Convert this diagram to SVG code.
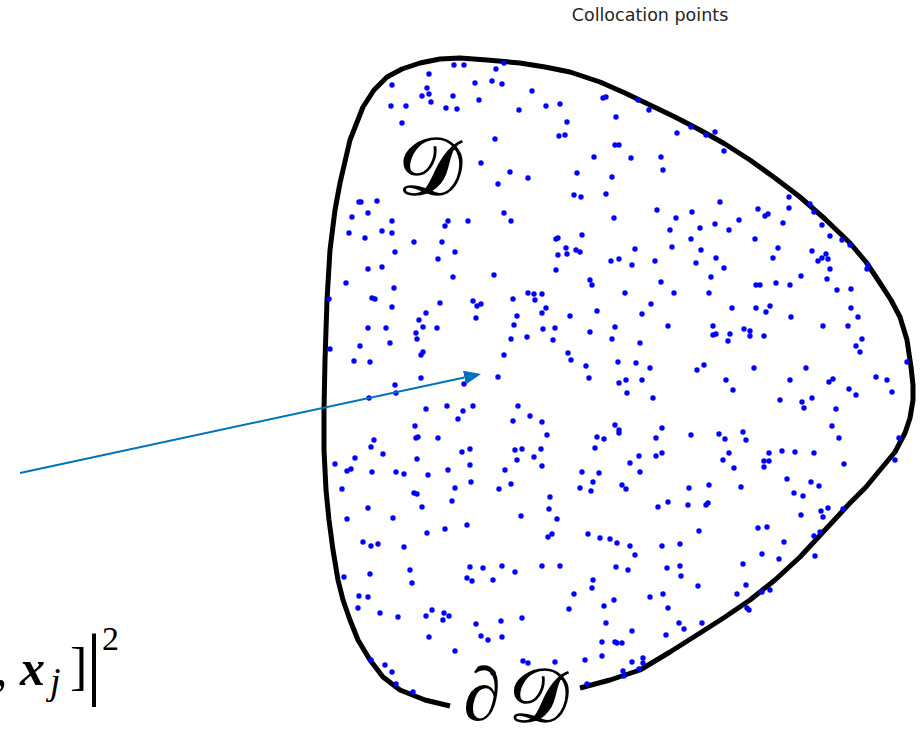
<svg xmlns="http://www.w3.org/2000/svg" width="921" height="736" viewBox="0 0 921 736">
<style>
.title{font-family:"DejaVu Sans",sans-serif;font-size:17.5px;fill:#262626}
.cal{font-family:"DejaVu Serif","Liberation Serif",serif;fill:#000;stroke:#000;stroke-width:1.6}
.ser{font-family:"Liberation Serif",serif;fill:#000}
.dots circle{fill:#0000ff}
</style>
<defs>
<marker id="ah" viewBox="0 0 17 14" refX="0" refY="7" markerWidth="17" markerHeight="14" markerUnits="userSpaceOnUse" orient="auto">
<path d="M0,0 L17,7 L0,14 z" fill="#0072BD"/>
</marker>
</defs>
<rect width="921" height="736" fill="#fff"/>
<text class="title" x="650" y="21" text-anchor="middle">Collocation points</text>
<g id="domain">
<polyline fill="none" stroke="#000" stroke-width="5" stroke-linejoin="round" stroke-linecap="butt" points="450,706 425,700 400,690 383,677 370,660 358,640 350,620 343,600 338,580 333,550 329,520 326,490 324,450 324,410 325,360 327,300 330,250 335,210 340,183 350,140 363,107 374,90 387,77 402,69 420,63 440,59 460,58 487,60 520,63 545,67 570,72 600,82 625,93 650,105 675,117 700,130 725,144 750,160 775,178 800,197 825,219 850,243 866,262 880,283 891,300 900,317 907,340 911,367 913,385 913,400 910,418 905,433 895,452 880,470 866,487 850,503 825,530 800,557 775,580 750,600 725,617 700,633 670,652 640,670 610,680 580,688"/>
</g>
<g class="dots" id="points">
<circle cx="454" cy="65" r="2.7"/><circle cx="464" cy="65" r="2.7"/><circle cx="504" cy="63" r="2.7"/><circle cx="496" cy="69" r="2.7"/><circle cx="429" cy="74" r="2.7"/><circle cx="392" cy="85" r="2.7"/><circle cx="475" cy="83" r="2.7"/><circle cx="492" cy="81" r="2.7"/><circle cx="502" cy="84" r="2.7"/><circle cx="532" cy="91" r="2.7"/><circle cx="427" cy="88" r="2.7"/><circle cx="429" cy="94" r="2.7"/><circle cx="422" cy="96" r="2.7"/><circle cx="453" cy="96" r="2.7"/><circle cx="431" cy="102" r="2.7"/><circle cx="479" cy="100" r="2.7"/><circle cx="391" cy="106" r="2.7"/><circle cx="406" cy="106" r="2.7"/><circle cx="446" cy="108" r="2.7"/><circle cx="457" cy="109" r="2.7"/><circle cx="519" cy="110" r="2.7"/><circle cx="546" cy="106" r="2.7"/><circle cx="560" cy="104" r="2.7"/><circle cx="603" cy="98" r="2.7"/><circle cx="606" cy="97" r="2.7"/><circle cx="402" cy="123" r="2.7"/><circle cx="567" cy="122" r="2.7"/><circle cx="559" cy="136" r="2.7"/><circle cx="565" cy="135" r="2.7"/><circle cx="495" cy="139" r="2.7"/><circle cx="594" cy="157" r="2.7"/><circle cx="481" cy="163" r="2.7"/><circle cx="510" cy="172" r="2.7"/><circle cx="528" cy="178" r="2.7"/><circle cx="577" cy="173" r="2.7"/><circle cx="498" cy="184" r="2.7"/><circle cx="574" cy="195" r="2.7"/><circle cx="581" cy="197" r="2.7"/>
<circle cx="638" cy="100" r="2.7"/><circle cx="649" cy="110" r="2.7"/><circle cx="616" cy="117" r="2.7"/><circle cx="677" cy="133" r="2.7"/><circle cx="691" cy="127" r="2.7"/><circle cx="706" cy="135" r="2.7"/><circle cx="715" cy="132" r="2.7"/><circle cx="724" cy="151" r="2.7"/><circle cx="615" cy="145" r="2.7"/><circle cx="619" cy="145" r="2.7"/><circle cx="631" cy="158" r="2.7"/><circle cx="661" cy="157" r="2.7"/><circle cx="663" cy="170" r="2.7"/><circle cx="612" cy="177" r="2.7"/><circle cx="606" cy="194" r="2.7"/><circle cx="720" cy="202" r="2.7"/><circle cx="789" cy="197" r="2.7"/><circle cx="789" cy="208" r="2.7"/><circle cx="810" cy="204" r="2.7"/><circle cx="814" cy="212" r="2.7"/><circle cx="758" cy="209" r="2.7"/><circle cx="765" cy="216" r="2.7"/><circle cx="768" cy="214" r="2.7"/><circle cx="657" cy="210" r="2.7"/><circle cx="676" cy="218" r="2.7"/><circle cx="692" cy="212" r="2.7"/><circle cx="614" cy="218" r="2.7"/><circle cx="715" cy="224" r="2.7"/><circle cx="739" cy="220" r="2.7"/><circle cx="783" cy="223" r="2.7"/><circle cx="822" cy="225" r="2.7"/><circle cx="670" cy="230" r="2.7"/><circle cx="700" cy="228" r="2.7"/><circle cx="729" cy="230" r="2.7"/><circle cx="830" cy="236" r="2.7"/><circle cx="842" cy="240" r="2.7"/><circle cx="850" cy="245" r="2.7"/><circle cx="755" cy="239" r="2.7"/><circle cx="691" cy="239" r="2.7"/><circle cx="672" cy="247" r="2.7"/><circle cx="701" cy="250" r="2.7"/><circle cx="635" cy="249" r="2.7"/><circle cx="778" cy="248" r="2.7"/><circle cx="812" cy="251" r="2.7"/><circle cx="826" cy="254" r="2.7"/><circle cx="822" cy="258" r="2.7"/><circle cx="818" cy="261" r="2.7"/><circle cx="828" cy="259" r="2.7"/><circle cx="868" cy="265" r="2.7"/><circle cx="867" cy="269" r="2.7"/><circle cx="611" cy="261" r="2.7"/><circle cx="619" cy="259" r="2.7"/><circle cx="632" cy="265" r="2.7"/><circle cx="655" cy="261" r="2.7"/><circle cx="696" cy="263" r="2.7"/><circle cx="716" cy="258" r="2.7"/><circle cx="724" cy="268" r="2.7"/><circle cx="773" cy="258" r="2.7"/><circle cx="830" cy="269" r="2.7"/><circle cx="711" cy="277" r="2.7"/><circle cx="801" cy="276" r="2.7"/><circle cx="827" cy="279" r="2.7"/><circle cx="661" cy="282" r="2.7"/><circle cx="756" cy="285" r="2.7"/><circle cx="760" cy="285" r="2.7"/><circle cx="776" cy="283" r="2.7"/><circle cx="790" cy="285" r="2.7"/><circle cx="837" cy="290" r="2.7"/><circle cx="851" cy="289" r="2.7"/><circle cx="625" cy="293" r="2.7"/><circle cx="674" cy="293" r="2.7"/><circle cx="709" cy="293" r="2.7"/><circle cx="651" cy="304" r="2.7"/><circle cx="642" cy="314" r="2.7"/><circle cx="732" cy="308" r="2.7"/><circle cx="756" cy="308" r="2.7"/><circle cx="766" cy="312" r="2.7"/><circle cx="770" cy="306" r="2.7"/><circle cx="791" cy="317" r="2.7"/><circle cx="851" cy="308" r="2.7"/><circle cx="858" cy="317" r="2.7"/><circle cx="615" cy="327" r="2.7"/><circle cx="612" cy="339" r="2.7"/><circle cx="668" cy="326" r="2.7"/><circle cx="713" cy="326" r="2.7"/><circle cx="713" cy="335" r="2.7"/><circle cx="716" cy="334" r="2.7"/><circle cx="730" cy="334" r="2.7"/><circle cx="728" cy="341" r="2.7"/><circle cx="744" cy="329" r="2.7"/><circle cx="750" cy="331" r="2.7"/><circle cx="750" cy="336" r="2.7"/><circle cx="764" cy="336" r="2.7"/><circle cx="823" cy="326" r="2.7"/><circle cx="848" cy="326" r="2.7"/><circle cx="862" cy="339" r="2.7"/><circle cx="856" cy="346" r="2.7"/><circle cx="860" cy="352" r="2.7"/><circle cx="640" cy="343" r="2.7"/><circle cx="618" cy="362" r="2.7"/><circle cx="636" cy="363" r="2.7"/><circle cx="650" cy="368" r="2.7"/><circle cx="697" cy="370" r="2.7"/><circle cx="704" cy="365" r="2.7"/><circle cx="754" cy="368" r="2.7"/><circle cx="806" cy="368" r="2.7"/><circle cx="907" cy="362" r="2.7"/><circle cx="876" cy="377" r="2.7"/><circle cx="887" cy="380" r="2.7"/><circle cx="892" cy="392" r="2.7"/><circle cx="626" cy="380" r="2.7"/><circle cx="619" cy="383" r="2.7"/><circle cx="642" cy="380" r="2.7"/><circle cx="726" cy="380" r="2.7"/><circle cx="733" cy="390" r="2.7"/><circle cx="790" cy="380" r="2.7"/><circle cx="829" cy="382" r="2.7"/><circle cx="833" cy="379" r="2.7"/><circle cx="849" cy="389" r="2.7"/><circle cx="856" cy="395" r="2.7"/><circle cx="627" cy="393" r="2.7"/><circle cx="653" cy="398" r="2.7"/><circle cx="780" cy="400" r="2.7"/><circle cx="802" cy="402" r="2.7"/><circle cx="812" cy="398" r="2.7"/><circle cx="804" cy="408" r="2.7"/><circle cx="836" cy="409" r="2.7"/>
<circle cx="615" cy="425" r="2.7"/><circle cx="619" cy="430" r="2.7"/><circle cx="619" cy="433" r="2.7"/><circle cx="597" cy="437" r="2.7"/><circle cx="604" cy="439" r="2.7"/><circle cx="595" cy="448" r="2.7"/><circle cx="656" cy="438" r="2.7"/><circle cx="662" cy="428" r="2.7"/><circle cx="691" cy="435" r="2.7"/><circle cx="719" cy="434" r="2.7"/><circle cx="725" cy="439" r="2.7"/><circle cx="743" cy="432" r="2.7"/><circle cx="746" cy="440" r="2.7"/><circle cx="832" cy="426" r="2.7"/><circle cx="839" cy="438" r="2.7"/><circle cx="899" cy="438" r="2.7"/><circle cx="895" cy="460" r="2.7"/><circle cx="844" cy="464" r="2.7"/><circle cx="639" cy="456" r="2.7"/><circle cx="656" cy="456" r="2.7"/><circle cx="662" cy="453" r="2.7"/><circle cx="630" cy="463" r="2.7"/><circle cx="640" cy="472" r="2.7"/><circle cx="729" cy="453" r="2.7"/><circle cx="723" cy="460" r="2.7"/><circle cx="734" cy="468" r="2.7"/><circle cx="769" cy="453" r="2.7"/><circle cx="764" cy="461" r="2.7"/><circle cx="769" cy="461" r="2.7"/><circle cx="764" cy="467" r="2.7"/><circle cx="782" cy="451" r="2.7"/><circle cx="795" cy="452" r="2.7"/><circle cx="814" cy="453" r="2.7"/><circle cx="582" cy="472" r="2.7"/><circle cx="599" cy="473" r="2.7"/><circle cx="593" cy="482" r="2.7"/><circle cx="580" cy="488" r="2.7"/><circle cx="591" cy="491" r="2.7"/><circle cx="622" cy="485" r="2.7"/><circle cx="626" cy="489" r="2.7"/><circle cx="689" cy="488" r="2.7"/><circle cx="709" cy="485" r="2.7"/><circle cx="741" cy="487" r="2.7"/><circle cx="787" cy="479" r="2.7"/><circle cx="811" cy="482" r="2.7"/><circle cx="819" cy="486" r="2.7"/><circle cx="794" cy="493" r="2.7"/><circle cx="803" cy="496" r="2.7"/><circle cx="668" cy="502" r="2.7"/><circle cx="658" cy="507" r="2.7"/><circle cx="688" cy="505" r="2.7"/><circle cx="706" cy="505" r="2.7"/><circle cx="708" cy="503" r="2.7"/><circle cx="821" cy="511" r="2.7"/><circle cx="828" cy="508" r="2.7"/><circle cx="843" cy="509" r="2.7"/><circle cx="823" cy="517" r="2.7"/><circle cx="801" cy="515" r="2.7"/><circle cx="758" cy="528" r="2.7"/><circle cx="767" cy="527" r="2.7"/><circle cx="820" cy="532" r="2.7"/><circle cx="814" cy="536" r="2.7"/><circle cx="699" cy="531" r="2.7"/><circle cx="588" cy="534" r="2.7"/><circle cx="600" cy="538" r="2.7"/><circle cx="610" cy="539" r="2.7"/><circle cx="617" cy="543" r="2.7"/><circle cx="630" cy="546" r="2.7"/><circle cx="635" cy="555" r="2.7"/><circle cx="662" cy="546" r="2.7"/><circle cx="680" cy="544" r="2.7"/><circle cx="784" cy="542" r="2.7"/><circle cx="762" cy="554" r="2.7"/><circle cx="779" cy="559" r="2.7"/><circle cx="815" cy="556" r="2.7"/><circle cx="743" cy="564" r="2.7"/><circle cx="616" cy="567" r="2.7"/><circle cx="628" cy="570" r="2.7"/><circle cx="667" cy="568" r="2.7"/><circle cx="680" cy="566" r="2.7"/><circle cx="681" cy="576" r="2.7"/><circle cx="593" cy="580" r="2.7"/><circle cx="592" cy="588" r="2.7"/><circle cx="698" cy="586" r="2.7"/><circle cx="746" cy="585" r="2.7"/><circle cx="737" cy="594" r="2.7"/><circle cx="762" cy="592" r="2.7"/><circle cx="770" cy="590" r="2.7"/><circle cx="650" cy="597" r="2.7"/><circle cx="663" cy="594" r="2.7"/><circle cx="614" cy="600" r="2.7"/><circle cx="604" cy="606" r="2.7"/><circle cx="668" cy="608" r="2.7"/><circle cx="747" cy="608" r="2.7"/><circle cx="749" cy="610" r="2.7"/><circle cx="606" cy="623" r="2.7"/><circle cx="679" cy="623" r="2.7"/><circle cx="684" cy="629" r="2.7"/><circle cx="702" cy="623" r="2.7"/><circle cx="632" cy="631" r="2.7"/><circle cx="666" cy="635" r="2.7"/><circle cx="602" cy="642" r="2.7"/><circle cx="615" cy="642" r="2.7"/><circle cx="617" cy="643" r="2.7"/><circle cx="622" cy="643" r="2.7"/><circle cx="585" cy="660" r="2.7"/><circle cx="602" cy="656" r="2.7"/><circle cx="632" cy="662" r="2.7"/><circle cx="643" cy="658" r="2.7"/><circle cx="643" cy="663" r="2.7"/><circle cx="639" cy="669" r="2.7"/><circle cx="623" cy="671" r="2.7"/><circle cx="624" cy="676" r="2.7"/><circle cx="587" cy="684" r="2.7"/>
<circle cx="504" cy="213" r="2.7"/><circle cx="511" cy="221" r="2.7"/><circle cx="468" cy="221" r="2.7"/><circle cx="448" cy="221" r="2.7"/><circle cx="445" cy="226" r="2.7"/><circle cx="442" cy="242" r="2.7"/><circle cx="455" cy="252" r="2.7"/><circle cx="438" cy="259" r="2.7"/><circle cx="453" cy="277" r="2.7"/><circle cx="494" cy="275" r="2.7"/><circle cx="556" cy="239" r="2.7"/><circle cx="558" cy="238" r="2.7"/><circle cx="582" cy="235" r="2.7"/><circle cx="566" cy="248" r="2.7"/><circle cx="567" cy="254" r="2.7"/><circle cx="576" cy="250" r="2.7"/><circle cx="580" cy="252" r="2.7"/><circle cx="558" cy="255" r="2.7"/><circle cx="556" cy="270" r="2.7"/><circle cx="590" cy="280" r="2.7"/><circle cx="592" cy="285" r="2.7"/><circle cx="513" cy="299" r="2.7"/><circle cx="528" cy="293" r="2.7"/><circle cx="534" cy="294" r="2.7"/><circle cx="535" cy="300" r="2.7"/><circle cx="542" cy="294" r="2.7"/><circle cx="546" cy="308" r="2.7"/><circle cx="542" cy="313" r="2.7"/><circle cx="517" cy="316" r="2.7"/><circle cx="514" cy="325" r="2.7"/><circle cx="543" cy="329" r="2.7"/><circle cx="555" cy="328" r="2.7"/><circle cx="553" cy="340" r="2.7"/><circle cx="527" cy="337" r="2.7"/><circle cx="511" cy="339" r="2.7"/><circle cx="570" cy="316" r="2.7"/><circle cx="597" cy="311" r="2.7"/><circle cx="590" cy="332" r="2.7"/><circle cx="440" cy="303" r="2.7"/><circle cx="473" cy="301" r="2.7"/><circle cx="477" cy="306" r="2.7"/><circle cx="481" cy="304" r="2.7"/><circle cx="476" cy="318" r="2.7"/><circle cx="437" cy="328" r="2.7"/><circle cx="504" cy="355" r="2.7"/><circle cx="568" cy="353" r="2.7"/><circle cx="571" cy="360" r="2.7"/><circle cx="586" cy="366" r="2.7"/><circle cx="589" cy="378" r="2.7"/><circle cx="498" cy="377" r="2.7"/><circle cx="464" cy="384" r="2.7"/><circle cx="447" cy="406" r="2.7"/><circle cx="463" cy="411" r="2.7"/><circle cx="473" cy="406" r="2.7"/><circle cx="458" cy="419" r="2.7"/><circle cx="518" cy="406" r="2.7"/><circle cx="513" cy="421" r="2.7"/><circle cx="530" cy="416" r="2.7"/><circle cx="542" cy="422" r="2.7"/><circle cx="547" cy="435" r="2.7"/><circle cx="438" cy="438" r="2.7"/><circle cx="462" cy="452" r="2.7"/><circle cx="470" cy="449" r="2.7"/><circle cx="470" cy="465" r="2.7"/><circle cx="448" cy="470" r="2.7"/><circle cx="471" cy="482" r="2.7"/><circle cx="455" cy="488" r="2.7"/><circle cx="452" cy="501" r="2.7"/><circle cx="515" cy="450" r="2.7"/><circle cx="522" cy="449" r="2.7"/><circle cx="517" cy="460" r="2.7"/><circle cx="534" cy="457" r="2.7"/><circle cx="541" cy="449" r="2.7"/><circle cx="542" cy="466" r="2.7"/><circle cx="505" cy="470" r="2.7"/><circle cx="511" cy="484" r="2.7"/><circle cx="499" cy="489" r="2.7"/><circle cx="550" cy="497" r="2.7"/><circle cx="549" cy="509" r="2.7"/><circle cx="557" cy="519" r="2.7"/><circle cx="521" cy="516" r="2.7"/><circle cx="467" cy="525" r="2.7"/><circle cx="445" cy="529" r="2.7"/><circle cx="552" cy="534" r="2.7"/><circle cx="548" cy="537" r="2.7"/><circle cx="470" cy="567" r="2.7"/><circle cx="483" cy="568" r="2.7"/><circle cx="502" cy="566" r="2.7"/><circle cx="515" cy="572" r="2.7"/><circle cx="542" cy="566" r="2.7"/><circle cx="560" cy="566" r="2.7"/><circle cx="467" cy="578" r="2.7"/><circle cx="472" cy="581" r="2.7"/><circle cx="493" cy="580" r="2.7"/><circle cx="574" cy="594" r="2.7"/>
<circle cx="359" cy="202" r="2.7"/><circle cx="361" cy="202" r="2.7"/><circle cx="377" cy="201" r="2.7"/><circle cx="352" cy="217" r="2.7"/><circle cx="368" cy="213" r="2.7"/><circle cx="392" cy="221" r="2.7"/><circle cx="349" cy="233" r="2.7"/><circle cx="365" cy="238" r="2.7"/><circle cx="382" cy="231" r="2.7"/><circle cx="392" cy="233" r="2.7"/><circle cx="414" cy="242" r="2.7"/><circle cx="395" cy="252" r="2.7"/><circle cx="368" cy="269" r="2.7"/><circle cx="382" cy="267" r="2.7"/><circle cx="346" cy="283" r="2.7"/><circle cx="394" cy="288" r="2.7"/><circle cx="372" cy="298" r="2.7"/><circle cx="375" cy="299" r="2.7"/><circle cx="329" cy="299" r="2.7"/><circle cx="392" cy="307" r="2.7"/><circle cx="426" cy="313" r="2.7"/><circle cx="419" cy="320" r="2.7"/><circle cx="423" cy="327" r="2.7"/><circle cx="368" cy="328" r="2.7"/><circle cx="386" cy="328" r="2.7"/><circle cx="416" cy="333" r="2.7"/><circle cx="417" cy="339" r="2.7"/><circle cx="360" cy="346" r="2.7"/><circle cx="390" cy="343" r="2.7"/><circle cx="330" cy="349" r="2.7"/><circle cx="423" cy="352" r="2.7"/><circle cx="421" cy="355" r="2.7"/><circle cx="354" cy="361" r="2.7"/><circle cx="370" cy="362" r="2.7"/><circle cx="421" cy="378" r="2.7"/><circle cx="395" cy="385" r="2.7"/><circle cx="396" cy="393" r="2.7"/><circle cx="369" cy="398" r="2.7"/><circle cx="426" cy="409" r="2.7"/><circle cx="415" cy="426" r="2.7"/><circle cx="416" cy="438" r="2.7"/><circle cx="418" cy="437" r="2.7"/><circle cx="374" cy="440" r="2.7"/><circle cx="371" cy="447" r="2.7"/><circle cx="383" cy="454" r="2.7"/><circle cx="355" cy="458" r="2.7"/><circle cx="335" cy="464" r="2.7"/><circle cx="347" cy="471" r="2.7"/><circle cx="351" cy="469" r="2.7"/><circle cx="372" cy="472" r="2.7"/><circle cx="396" cy="472" r="2.7"/><circle cx="404" cy="474" r="2.7"/><circle cx="417" cy="459" r="2.7"/><circle cx="428" cy="475" r="2.7"/><circle cx="342" cy="489" r="2.7"/><circle cx="414" cy="493" r="2.7"/><circle cx="417" cy="494" r="2.7"/><circle cx="422" cy="507" r="2.7"/><circle cx="368" cy="508" r="2.7"/><circle cx="393" cy="518" r="2.7"/><circle cx="347" cy="519" r="2.7"/><circle cx="427" cy="533" r="2.7"/><circle cx="363" cy="542" r="2.7"/><circle cx="371" cy="546" r="2.7"/><circle cx="378" cy="544" r="2.7"/><circle cx="404" cy="547" r="2.7"/><circle cx="344" cy="577" r="2.7"/><circle cx="370" cy="574" r="2.7"/><circle cx="410" cy="570" r="2.7"/><circle cx="412" cy="583" r="2.7"/><circle cx="359" cy="596" r="2.7"/><circle cx="368" cy="597" r="2.7"/><circle cx="358" cy="608" r="2.7"/><circle cx="380" cy="613" r="2.7"/><circle cx="398" cy="617" r="2.7"/><circle cx="426" cy="616" r="2.7"/><circle cx="429" cy="637" r="2.7"/><circle cx="371" cy="660" r="2.7"/><circle cx="385" cy="665" r="2.7"/><circle cx="392" cy="672" r="2.7"/>
<circle cx="432" cy="610" r="2.7"/><circle cx="444" cy="613" r="2.7"/><circle cx="449" cy="616" r="2.7"/><circle cx="443" cy="620" r="2.7"/><circle cx="455" cy="651" r="2.7"/><circle cx="476" cy="624" r="2.7"/><circle cx="501" cy="621" r="2.7"/><circle cx="522" cy="618" r="2.7"/><circle cx="481" cy="636" r="2.7"/><circle cx="488" cy="640" r="2.7"/><circle cx="502" cy="637" r="2.7"/><circle cx="569" cy="609" r="2.7"/><circle cx="555" cy="662" r="2.7"/><circle cx="523" cy="661" r="2.7"/><circle cx="528" cy="663" r="2.7"/><circle cx="396" cy="684" r="2.7"/><circle cx="413" cy="692" r="2.7"/><circle cx="493" cy="673" r="2.7"/>
</g>
<g id="label-D">
<text class="cal" x="430" y="194" font-size="80" text-anchor="middle">𝒟</text>
</g>
<g id="label-boundary">
<text x="482" y="720" font-size="76" font-style="italic" font-family="Liberation Serif, serif" text-anchor="middle" fill="#000">∂</text>
<text class="cal" x="538" y="721" font-size="74" text-anchor="middle">𝒟</text>
</g>
<g id="connectors">
<line x1="20" y1="473" x2="464.4" y2="377.6" stroke="#0072BD" stroke-width="2" marker-end="url(#ah)"/>
</g>
<g id="formula" class="ser">
<text x="-5" y="685" font-size="50">,</text>
<text x="20" y="685" font-size="50" font-weight="bold" font-style="italic">x</text>
<text x="50" y="694" font-size="38" font-style="italic">j</text>
<text x="70" y="684" font-size="52">]</text>
<text x="86" y="690" font-size="80">|</text>
<text x="102" y="650" font-size="34">2</text>
</g>
</svg>
